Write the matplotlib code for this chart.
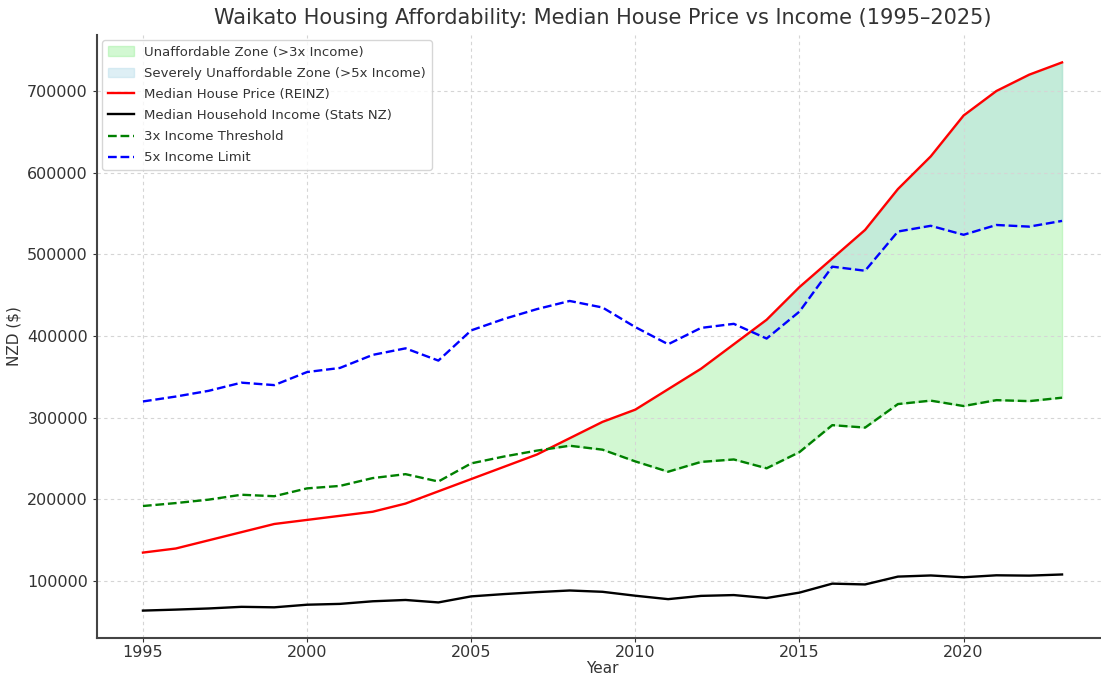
import matplotlib
matplotlib.use("Agg")
import matplotlib.pyplot as plt
import numpy as np

years = list(range(1995, 2024))
house_price = [135000, 140000, 150000, 160000, 170000, 175000, 180000, 185000, 195000,
               210000, 225000, 240000, 255000, 275000, 295000, 310000, 335000, 360000,
               390000, 420000, 460000, 495000, 530000, 580000, 620000, 670000, 700000,
               720000, 735000]
income = [64000, 65200, 66600, 68600, 68000, 71200, 72200, 75400, 77000, 74000, 81400,
          84200, 86600, 88600, 87000, 82200, 78000, 82000, 83000, 79400, 86000, 97000,
          96000, 105600, 107000, 104800, 107200, 106800, 108200]

yrs = np.array(years)
price = np.array(house_price)
inc = np.array(income)
thr3 = 3 * inc
thr5 = 5 * inc

fig = plt.figure(figsize=(11.01, 6.81), dpi=100)
ax = fig.add_axes([97/1101, 43/681, (1108-97)/1101, (638-35)/681])

ax.fill_between(yrs, thr3, price, where=price > thr3, interpolate=True,
                color='lightgreen', alpha=0.4, label='Unaffordable Zone (>3x Income)')
ax.fill_between(yrs, thr5, price, where=price > thr5, interpolate=True,
                color='lightblue', alpha=0.4, label='Severely Unaffordable Zone (>5x Income)')
ax.plot(yrs, price, color='red', lw=1.7, label='Median House Price (REINZ)')
ax.plot(yrs, inc, color='black', lw=1.7, label='Median Household Income (Stats NZ)')
ax.plot(yrs, thr3, color='green', ls='--', lw=1.7, label='3x Income Threshold')
ax.plot(yrs, thr5, color='blue', ls='--', lw=1.7, label='5x Income Limit')

ax.set_title('Waikato Housing Affordability: Median House Price vs Income (1995–2025)',
             fontsize=15, color='#333333', pad=8)
ax.set_xlabel('Year', fontsize=11, color='#333333', labelpad=1)
ax.set_ylabel('NZD ($)', fontsize=11, color='#333333')
ax.tick_params(labelsize=11.5, colors='#333333', length=3)
ax.tick_params(axis='x', pad=2)
ax.grid(True, ls=(0, (3, 3)), color='#d5d5d5', lw=0.8)
for s in ['top', 'right']:
    ax.spines[s].set_visible(False)
for s in ['left', 'bottom']:
    ax.spines[s].set_color('#444444')
    ax.spines[s].set_linewidth(1.5)
ax.set_xticks([1995, 2000, 2005, 2010, 2015, 2020])
ax.set_yticks([100000, 200000, 300000, 400000, 500000, 600000, 700000])
ax.legend(loc='upper left', fontsize=9.5, frameon=True, labelcolor='#333333',
          labelspacing=0.62, borderaxespad=0.4)

fig.savefig('out.png', dpi=100)
